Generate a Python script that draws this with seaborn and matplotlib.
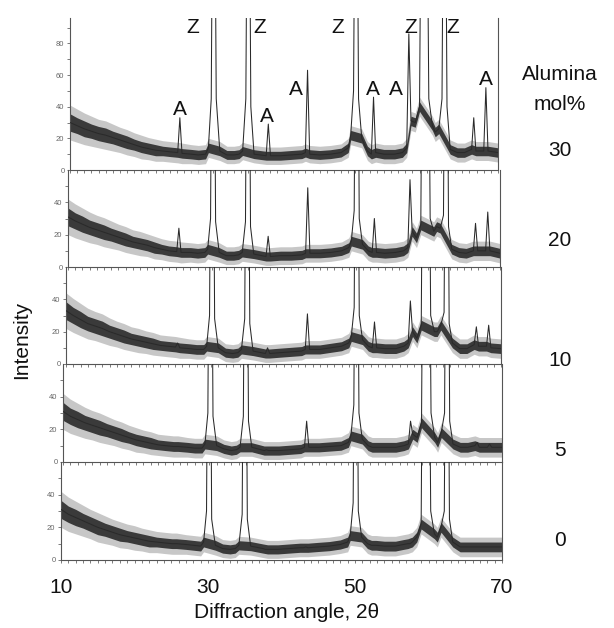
import numpy as np
import pandas as pd
import matplotlib
matplotlib.use("Agg")
import matplotlib.pyplot as plt
import seaborn as sns
from matplotlib.ticker import FixedLocator, MultipleLocator

# ---------------- data ----------------
angle = [10, 11, 12, 13, 14, 15, 16, 17, 18, 19, 20, 21, 22, 23, 24,
         25.1, 25.4, 25.7, 27, 28, 29,
         29.4, 29.8, 30.15, 30.5, 31.0,
         32, 33, 33.7,
         34.2, 34.65, 35.0, 35.35, 35.8,
         37.5, 37.8, 38.1, 39.5, 41, 42.5,
         43.0, 43.3, 43.6, 45, 46.5, 48,
         49.0, 49.35, 49.75, 50.1, 50.45, 50.9, 51.7,
         52.25, 52.55, 52.85, 54, 55.5, 56.6,
         57.2, 57.5, 57.8, 58.4, 59.0,
         59.4, 59.85, 60.3, 60.8, 61.2, 61.7,
         62.15, 62.5, 62.85, 63.3, 64.3, 65.3,
         66.3, 66.6, 66.9, 67.6, 68.0, 68.3, 68.6, 70]

# 1 = point belongs to a diffraction peak (tip or steep flank), 0 = background
peak_point = [0, 0, 0, 0, 0, 0, 0, 0, 0, 0, 0, 0, 0, 0, 0,
              0, 1, 0, 0, 0, 0,
              0, 1, 1, 1, 0,
              0, 0, 0,
              0, 1, 1, 1, 0,
              0, 1, 0, 0, 0, 0,
              0, 1, 0, 0, 0, 0,
              0, 0, 1, 1, 1, 0, 0,
              0, 1, 0, 0, 0, 0,
              0, 1, 0, 0, 0,
              1, 1, 1, 0, 0, 0,
              1, 1, 1, 0, 0, 0,
              0, 1, 0, 0, 0, 1, 0, 0]

int_30 = [30, 28, 26, 24.5, 23, 22, 20.5, 19, 17.5, 16, 14.5, 13.5, 12.5, 12, 11.5,
          11, 33, 10.5, 10, 9.5, 10,
          14, 45, 300, 45, 12,
          9.5, 9.5, 10,
          12, 45, 300, 40, 10,
          9, 29, 9, 9, 9.5, 10,
          11, 63, 10, 9.5, 10, 11,
          14, 22, 50, 300, 45, 20, 12,
          10, 46, 11, 10, 10, 11,
          14, 86, 31, 30, 40,
          300, 300, 45, 28, 24, 26,
          45, 300, 40, 13, 11, 11,
          13, 33, 12, 12, 12, 52, 12, 11]

int_20 = [31, 28.5, 26.5, 24.5, 23, 21.5, 20, 18.5, 17, 15.5, 14.5, 13.5, 12, 11, 10,
          9.5, 24, 9, 9, 8.5, 9,
          11, 30, 300, 28, 9,
          7, 7, 7.5,
          9, 28, 300, 25, 8,
          6.5, 19, 6.5, 7, 7, 7.5,
          8.5, 49, 8.5, 8.5, 9, 10,
          12, 16, 35, 300, 30, 14, 10,
          9, 30, 9, 8.5, 9, 10,
          12, 54, 22, 18, 26,
          300, 300, 30, 22, 25, 24,
          32, 300, 25, 11, 9, 8.5,
          10, 27, 10, 10, 10, 34, 10, 8.5]

int_10 = [33, 30, 27.5, 25, 23.5, 22, 20, 18.5, 17, 15.5, 14.5, 13.5, 12.5, 11.5, 11,
          10.5, 13, 10, 9.5, 9, 9,
          11, 30, 300, 28, 10,
          7, 6.5, 7,
          9, 28, 300, 25, 8,
          6.5, 10, 6.5, 7, 7.5, 8,
          9, 31, 9, 9, 10, 11,
          13, 17, 35, 300, 30, 15, 11,
          10, 26, 10, 9.5, 9.5, 11,
          13, 39, 20, 16, 24,
          300, 300, 30, 20, 20, 24,
          32, 300, 25, 13, 9.5, 9.5,
          12, 23, 11, 11, 11, 24, 10, 9.5]

int_5 = [31, 28, 26, 24, 22.5, 21, 19.5, 18, 16.5, 15, 13.5, 12.5, 11.5, 10.5, 10,
         9.5, 9.5, 9.5, 9, 8.5, 8.5,
         11, 30, 300, 28, 10,
         8, 7, 7.5,
         9, 28, 300, 25, 9,
         7, 7.5, 7, 7, 7.5, 8,
         9, 25, 9, 9, 9.5, 10,
         12, 16, 35, 300, 30, 14, 10,
         9, 9, 9, 9, 9, 10,
         11, 25, 17, 15, 24,
         300, 300, 30, 15, 12, 18,
         30, 300, 25, 11, 9, 9,
         10, 12, 9, 9, 9, 11, 9, 9]

int_0 = [31, 28, 26, 24, 22, 20, 18.5, 17, 15.5, 14.5, 13.5, 12.5, 11.5, 11, 10.5,
         10, 10, 10, 9.5, 9, 8.5,
         11, 30, 300, 25, 9,
         7, 6.5, 7,
         9, 28, 300, 25, 8.5,
         7, 6.5, 6.5, 6.5, 7, 7.5,
         7.5, 8, 7.5, 8, 8.5, 9.5,
         11, 15, 35, 300, 30, 14, 10,
         9, 9, 9, 8.5, 8.5, 9.5,
         10, 10, 11, 14, 22,
         300, 300, 30, 16, 14, 20,
         30, 300, 25, 11, 8, 8,
         8, 8, 8, 8, 8, 8, 8, 8]

# half-width of the dense (dark) part of the noisy trace
core_spread = [5.5, 5, 5, 4.5, 4.5, 4.5, 4, 4, 4, 3.5, 3.5, 3.5, 3.5, 3, 3,
               3, 3, 3, 3, 3, 3,
               3, 3, 3, 3, 3,
               2.8, 2.8, 2.8,
               2.8, 2.8, 2.8, 2.8, 2.8,
               2.8, 2.8, 2.8, 2.8, 2.8, 2.8,
               2.8, 2.8, 2.8, 2.8, 2.8, 2.8,
               3, 3, 3, 3, 3, 3, 3,
               3, 3, 3, 3, 3, 3,
               3, 3, 3, 3, 3,
               3, 3, 3, 3, 3, 3,
               3, 3, 3, 3, 3, 3,
               3, 3, 3, 3, 3, 3, 3, 3]

# half-width reached by the light noise spikes
spike_spread = [11, 10.5, 10, 9.5, 9, 9, 8.5, 8, 8, 7.5, 7.5, 7, 7, 6.5, 6.5,
                6.5, 6.5, 6.5, 6, 6, 6,
                6, 6, 6, 6, 6,
                5.5, 5.5, 5.5,
                5.5, 5.5, 5.5, 5.5, 5.5,
                5.5, 5.5, 5.5, 5.5, 5.5, 5.5,
                5.5, 5.5, 5.5, 5.5, 5.5, 5.5,
                6, 6, 6, 6, 6, 6, 6,
                6, 6, 6, 6, 6, 6,
                6, 6, 6, 6, 6,
                6, 6, 6, 6, 6, 6,
                6, 6, 6, 6, 6, 6,
                6, 6, 6, 6, 6, 6, 6, 6]

compositions = ["30", "20", "10", "5", "0"]
series = {"30": int_30, "20": int_20, "10": int_10, "5": int_5, "0": int_0}

z_label_angles = [27.2, 36.6, 47.5, 57.7, 63.6]
a_label_angles = [25.4, 37.6, 41.7, 52.5, 55.7, 68.25]
a_label_heights = [38, 34, 51, 51, 51, 57]
x_tick_values = [10, 30, 50, 70]

for k, v in series.items():
    assert len(v) == len(angle), (k, len(v))
assert len(core_spread) == len(angle) and len(spike_spread) == len(angle)
assert len(peak_point) == len(angle)

# ---------------- style ----------------
sns.set_theme(style="white")
plt.rcParams["font.family"] = ["Liberation Sans", "DejaVu Sans"]

W, H = 614, 628
fig = plt.figure(figsize=(W / 100, H / 100), dpi=100)

# axes boxes in pixels: left, right, top, bottom (the scan is slightly skewed)
boxes = {"30": (70, 498, 18, 170), "20": (68, 500, 170, 267),
         "10": (66, 501, 267, 364), "5": (63, 502, 364, 462),
         "0": (61, 502, 462, 560)}
ymax = {"30": 96, "20": 60, "10": 60, "5": 60, "0": 60}
label_y = {"30": 150, "20": 240, "10": 360, "5": 450, "0": 540}

x = np.array(angle, dtype=float)
bg = np.array(peak_point) == 0
cs = np.array(core_spread, dtype=float)[bg]
ss = np.array(spike_spread, dtype=float)[bg]
xb = x[bg]

axes = {}
for comp in compositions:
    l, r, t, b = boxes[comp]
    ax = fig.add_axes([l / W, 1 - b / H, (r - l) / W, (b - t) / H])
    axes[comp] = ax
    y = np.array(series[comp], dtype=float)
    yb = y[bg]
    df = pd.DataFrame({"angle": x, "intensity": y})
    ax.fill_between(xb, np.clip(yb - ss, 0.3, None), yb + ss, color="#a2a2a2",
                    alpha=0.6, lw=0, zorder=1)
    ax.fill_between(xb, np.clip(yb - cs, 0.3, None), yb + cs, color="#262626",
                    alpha=0.88, lw=0, zorder=2)
    sns.lineplot(data=df, x="angle", y="intensity", ax=ax, color="#2a2a2a",
                 linewidth=0.75, estimator=None, sort=False, zorder=3)
    ax.set_xlim(10, 70)
    ax.set_ylim(0, ymax[comp])
    ax.set_xlabel("")
    ax.set_ylabel("")
    for side in ["left", "bottom", "right"]:
        ax.spines[side].set_visible(True)
        ax.spines[side].set_color("#555555")
        ax.spines[side].set_linewidth(0.8)
    ax.spines["top"].set_visible(False)
    ax.set_facecolor("none")

    if comp == "30":
        ax.yaxis.set_major_locator(FixedLocator([0, 20, 40, 60, 80]))
        ax.yaxis.set_minor_locator(FixedLocator([10, 30, 50, 70, 90]))
    else:
        ax.yaxis.set_major_locator(FixedLocator([0, 20, 40]))
        ax.yaxis.set_minor_locator(FixedLocator([10, 30, 50]))
    ax.xaxis.set_major_locator(FixedLocator(x_tick_values))
    ax.xaxis.set_minor_locator(MultipleLocator(1))
    ax.tick_params(axis="y", which="both", direction="out", left=True,
                   right=False, length=2.5, width=0.6, colors="#666666",
                   labelsize=5.5, pad=1.5)
    ax.tick_params(axis="x", which="both", direction="out", bottom=True,
                   length=2, width=0.6, colors="#666666")
    if comp == "0":
        ax.tick_params(axis="x", which="major", labelsize=15,
                       labelcolor="#111111", pad=11)
    else:
        ax.tick_params(axis="x", which="major", labelbottom=False)

    fig.text(560 / W, 1 - label_y[comp] / H, comp, ha="center", va="center",
             fontsize=15, color="#111111")

top = axes["30"]
for za in z_label_angles:
    top.text(za, 90, "Z", ha="center", va="center", fontsize=15,
             color="#111111", clip_on=False)
for aa, ah in zip(a_label_angles, a_label_heights):
    top.text(aa, ah, "A", ha="center", va="center", fontsize=15,
             color="#111111")

fig.text(560 / W, 1 - 75 / H, "Alumina", ha="center", va="center",
         fontsize=15, color="#111111")
fig.text(560 / W, 1 - 105 / H, "mol%", ha="center", va="center",
         fontsize=15, color="#111111")
fig.text(22 / W, 1 - 340 / H, "Intensity", ha="center", va="center",
         rotation=90, fontsize=15, color="#111111")
fig.text(287 / W, 1 - 612 / H, "Diffraction angle, 2θ", ha="center",
         va="center", fontsize=15, color="#111111")

fig.savefig("out.png", dpi=100, facecolor="white")
